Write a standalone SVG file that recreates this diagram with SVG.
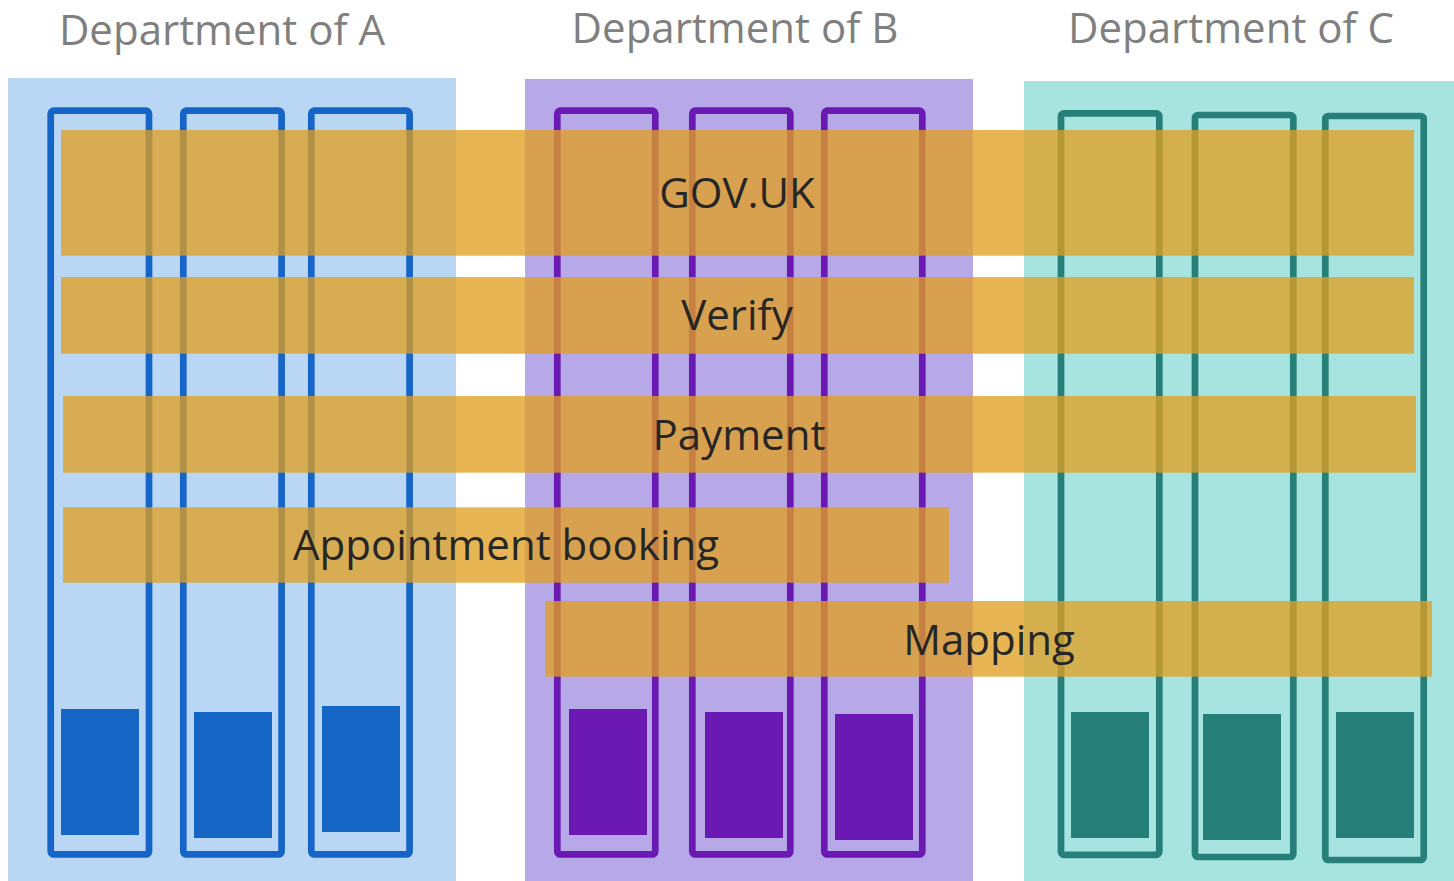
<svg xmlns="http://www.w3.org/2000/svg" width="1454" height="881" viewBox="0 0 1454 881">
<style>
  .title { font-family: "Open Sans", "Liberation Sans", sans-serif; font-size: 42px; fill: #7F7F7F; text-anchor: middle; }
  .label { font-family: "Open Sans", "Liberation Sans", sans-serif; font-size: 42px; fill: #262626; text-anchor: middle; }
  .colA { fill: none; stroke: #1565C8; stroke-width: 6.7; }
  .colB { fill: none; stroke: #6A1AB2; stroke-width: 6.7; }
  .colC { fill: none; stroke: #267F78; stroke-width: 6.7; }
  .blkA { fill: #1565C4; }
  .blkB { fill: #6A1AB2; }
  .blkC { fill: #267F78; }
  .bar { fill: #E19F21; fill-opacity: 0.77; }
</style>
<rect width="1454" height="881" fill="#FFFFFF"/>
<g id="deptA">
  <rect x="8" y="78" width="448" height="803" fill="#B9D7F5"/>
  <rect class="colA" x="50.7" y="110.7" width="98.3" height="743.7" rx="3"/>
  <rect class="colA" x="183.3" y="110.7" width="98.3" height="743.7" rx="3"/>
  <rect class="colA" x="311.3" y="110.7" width="98.3" height="743.7" rx="3"/>
  <rect class="blkA" x="61" y="709" width="78" height="126"/>
  <rect class="blkA" x="194" y="712" width="78" height="126"/>
  <rect class="blkA" x="322" y="706" width="78" height="126"/>
  <text class="title" x="222" y="45">Department of A</text>
</g>
<g id="deptB">
  <rect x="525" y="79" width="448" height="802" fill="#B7A8E8"/>
  <rect class="colB" x="557.3" y="110.7" width="98" height="743.7" rx="3"/>
  <rect class="colB" x="692.3" y="110.7" width="98" height="743.7" rx="3"/>
  <rect class="colB" x="824.3" y="110.7" width="98" height="743.7" rx="3"/>
  <rect class="blkB" x="569" y="709" width="78" height="126"/>
  <rect class="blkB" x="705" y="712" width="78" height="126"/>
  <rect class="blkB" x="835" y="714" width="78" height="126"/>
  <text class="title" x="735" y="43">Department of B</text>
</g>
<g id="deptC">
  <rect x="1024" y="81" width="430" height="800" fill="#A8E4DF"/>
  <rect class="colC" x="1061" y="113.3" width="98.3" height="741.5" rx="3"/>
  <rect class="colC" x="1195" y="115" width="98.3" height="742" rx="3"/>
  <rect class="colC" x="1325.3" y="116" width="98.4" height="744" rx="3"/>
  <rect class="blkC" x="1071" y="712" width="78" height="126"/>
  <rect class="blkC" x="1203" y="714" width="78" height="126"/>
  <rect class="blkC" x="1336" y="712" width="78" height="126"/>
  <text class="title" x="1231" y="43">Department of C</text>
</g>
<g id="govuk">
  <rect class="bar" x="61" y="130" width="1353" height="125.7"/>
  <text class="label" x="737" y="208">GOV.UK</text>
</g>
<g id="verify">
  <rect class="bar" x="61" y="277" width="1353" height="76.7"/>
  <text class="label" x="737" y="330">Verify</text>
</g>
<g id="payment">
  <rect class="bar" x="63" y="396" width="1353" height="76.7"/>
  <text class="label" x="739" y="450">Payment</text>
</g>
<g id="appointment">
  <rect class="bar" x="63" y="507.3" width="886" height="75.4"/>
  <text class="label" x="506" y="560">Appointment booking</text>
</g>
<g id="mapping">
  <rect class="bar" x="545" y="601" width="887" height="75.7"/>
  <text class="label" x="989" y="655">Mapping</text>
</g>
</svg>
